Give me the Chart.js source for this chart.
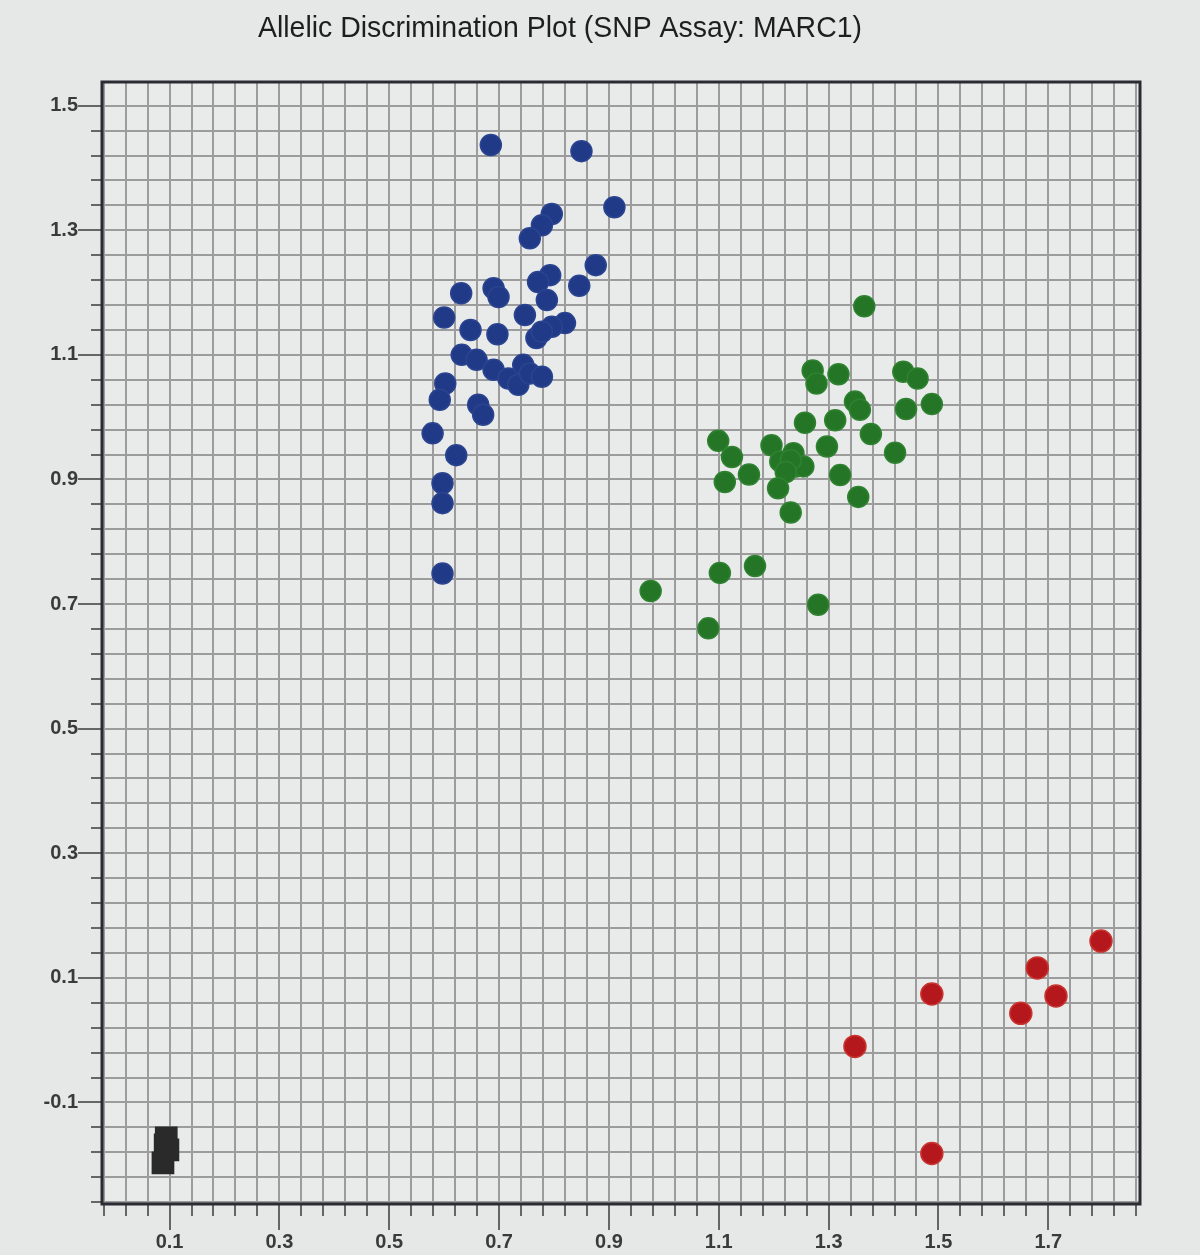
<!DOCTYPE html>
<html>
<head>
<meta charset="utf-8">
<title>Allelic Discrimination Plot</title>
<script src="https://cdn.jsdelivr.net/npm/chart.js@4.4.1/dist/chart.umd.min.js"></script>
<style>
  html, body { margin: 0; padding: 0; background: #e6e8e8; }
  #wrap { width: 1200px; height: 1255px; position: relative; }
</style>
</head>
<body>
<div id="wrap"><canvas id="allelicChart" width="1200" height="1255"></canvas></div>
<script>
const chartTitle = 'Allelic Discrimination Plot (SNP Assay: MARC1)';

// Allele 1 homozygotes (blue)
const allele1 = [
  [0.685, 1.437], [0.850, 1.427], [0.910, 1.337], [0.796, 1.326], [0.778, 1.308],
  [0.756, 1.287], [0.876, 1.244], [0.793, 1.228], [0.771, 1.217], [0.846, 1.211],
  [0.787, 1.188], [0.631, 1.199], [0.690, 1.207], [0.699, 1.193], [0.600, 1.160],
  [0.747, 1.164], [0.648, 1.140], [0.697, 1.133], [0.820, 1.151], [0.796, 1.145],
  [0.768, 1.127], [0.778, 1.137], [0.632, 1.100], [0.659, 1.092], [0.690, 1.076],
  [0.717, 1.062], [0.735, 1.052], [0.744, 1.084], [0.756, 1.070], [0.778, 1.065],
  [0.602, 1.054], [0.592, 1.028], [0.662, 1.020], [0.671, 1.004], [0.579, 0.974],
  [0.622, 0.939], [0.597, 0.894], [0.597, 0.862], [0.597, 0.749]
];

// Heterozygotes (green)
const heterozygous = [
  [1.365, 1.178], [1.271, 1.075], [1.278, 1.054], [1.318, 1.069], [1.436, 1.073],
  [1.462, 1.062], [1.348, 1.025], [1.357, 1.012], [1.441, 1.013], [1.488, 1.021],
  [1.257, 0.991], [1.312, 0.995], [1.377, 0.973], [1.099, 0.962], [1.124, 0.936],
  [1.196, 0.955], [1.236, 0.942], [1.242, 0.921], [1.212, 0.929], [1.254, 0.921],
  [1.231, 0.931], [1.222, 0.912], [1.297, 0.953], [1.421, 0.943], [1.155, 0.908],
  [1.111, 0.896], [1.208, 0.886], [1.321, 0.907], [1.354, 0.872], [1.231, 0.847],
  [1.166, 0.761], [1.102, 0.750], [0.976, 0.721], [1.281, 0.699], [1.081, 0.661]
];

// Allele 2 homozygotes (red)
const allele2 = [
  [1.796, 0.159], [1.680, 0.116], [1.714, 0.071], [1.650, 0.043],
  [1.488, 0.074], [1.348, -0.010], [1.488, -0.182]
];

// No template controls (black squares)
const ntc = [
  [0.094, -0.157], [0.092, -0.168], [0.097, -0.176], [0.088, -0.197]
];

const xLabelTicks = [0.1, 0.3, 0.5, 0.7, 0.9, 1.1, 1.3, 1.5, 1.7];
const yLabelTicks = [-0.1, 0.1, 0.3, 0.5, 0.7, 0.9, 1.1, 1.3, 1.5];
const gridStep = 0.04;
const xRange = [-0.023, 1.867];
const yRange = [-0.263, 1.538];

function toPoints(arr) {
  return arr.map(p => ({ x: p[0], y: p[1] }));
}

function gridTicks(anchor, min, max) {
  const out = [];
  let v = anchor;
  while (v - gridStep >= min) v -= gridStep;
  for (; v <= max + 1e-9; v += gridStep) out.push({ value: Math.round(v * 1000) / 1000 });
  return out;
}

function isLabelled(list, v) {
  return list.some(t => Math.abs(t - v) < 1e-6);
}

const plotBox = {
  id: 'plotBox',
  beforeDraw(chart) {
    const { ctx, chartArea: a } = chart;
    ctx.save();
    ctx.fillStyle = '#e9ebeb';
    ctx.fillRect(a.left, a.top, a.right - a.left, a.bottom - a.top);
    ctx.restore();
  },
  beforeDatasetsDraw(chart) {
    const { ctx, chartArea: a, scales } = chart;
    ctx.save();
    // longer tick marks at the labelled values
    ctx.strokeStyle = '#666';
    ctx.lineWidth = 2;
    ctx.beginPath();
    xLabelTicks.forEach(v => {
      const px = Math.round(scales.x.getPixelForValue(v));
      ctx.moveTo(px, a.bottom);
      ctx.lineTo(px, a.bottom + 26);
    });
    yLabelTicks.forEach(v => {
      const py = Math.round(scales.y.getPixelForValue(v));
      ctx.moveTo(a.left, py);
      ctx.lineTo(a.left - 24, py);
    });
    ctx.stroke();
    ctx.strokeStyle = '#2b2b33';
    ctx.lineWidth = 3;
    ctx.strokeRect(a.left, a.top, a.right - a.left, a.bottom - a.top);
    ctx.restore();
  },
  afterDraw(chart) {
    const ctx = chart.ctx;
    ctx.save();
    ctx.font = '30px "Liberation Sans", Arial, sans-serif';
    ctx.fillStyle = '#1e1e1e';
    ctx.textAlign = 'center';
    ctx.textBaseline = 'middle';
    const w = ctx.measureText(chartTitle).width;
    ctx.translate(560, 29);
    ctx.scale(604 / w, 1);
    ctx.fillText(chartTitle, 0, 0);
    ctx.restore();
  }
};

const pointStyle = (bg, border, style, r) => ({
  backgroundColor: bg,
  borderColor: border,
  borderWidth: 1.5,
  pointStyle: style,
  pointRadius: r,
  pointHoverRadius: r
});

const tickFont = { family: '"Liberation Sans", Arial, sans-serif', size: 20, weight: 'bold' };

const configAllelic = {
  type: 'scatter',
  data: {
    datasets: [
      Object.assign({ label: 'Allele 1', data: toPoints(allele1) }, pointStyle('#213a87', '#2a4490', 'circle', 10.5)),
      Object.assign({ label: 'Both', data: toPoints(heterozygous) }, pointStyle('#257526', '#2e8230', 'circle', 10.5)),
      Object.assign({ label: 'Allele 2', data: toPoints(allele2) }, pointStyle('#b5181c', '#c9342f', 'circle', 11)),
      Object.assign({ label: 'NTC', data: toPoints(ntc) }, pointStyle('#2a2a2a', '#2a2a2a', 'rect', 15))
    ]
  },
  options: {
    responsive: false,
    animation: false,
    events: [],
    layout: { padding: { top: 82, right: 60, left: 0, bottom: 0 } },
    plugins: {
      legend: { display: false },
      title: { display: false },
      tooltip: { enabled: false }
    },
    scales: {
      x: {
        type: 'linear',
        min: xRange[0],
        max: xRange[1],
        afterBuildTicks: s => { s.ticks = gridTicks(0.1, xRange[0], xRange[1]); },
        afterFit: s => { s.height = 51; },
        grid: { color: '#9c9c9c', lineWidth: 2, tickLength: 12, tickColor: '#666', tickWidth: 2 },
        border: { display: false },
        ticks: {
          autoSkip: false,
          maxRotation: 0,
          padding: 14,
          color: '#3a3a3a',
          font: tickFont,
          callback: v => isLabelled(xLabelTicks, v) ? v.toFixed(1) : ''
        }
      },
      y: {
        type: 'linear',
        min: yRange[0],
        max: yRange[1],
        afterBuildTicks: s => { s.ticks = gridTicks(-0.1, yRange[0], yRange[1]); },
        afterFit: s => { s.width = 102; },
        grid: { color: '#9c9c9c', lineWidth: 2, tickLength: 11, tickColor: '#666', tickWidth: 2 },
        border: { display: false },
        ticks: {
          autoSkip: false,
          padding: 13,
          color: '#3a3a3a',
          font: tickFont,
          callback: v => isLabelled(yLabelTicks, v) ? v.toFixed(1) : ''
        }
      }
    }
  },
  plugins: [plotBox]
};

const chartAllelic = document.getElementById('allelicChart');
var myChartAllelic = new Chart(chartAllelic, configAllelic);
</script>
</body>
</html>
